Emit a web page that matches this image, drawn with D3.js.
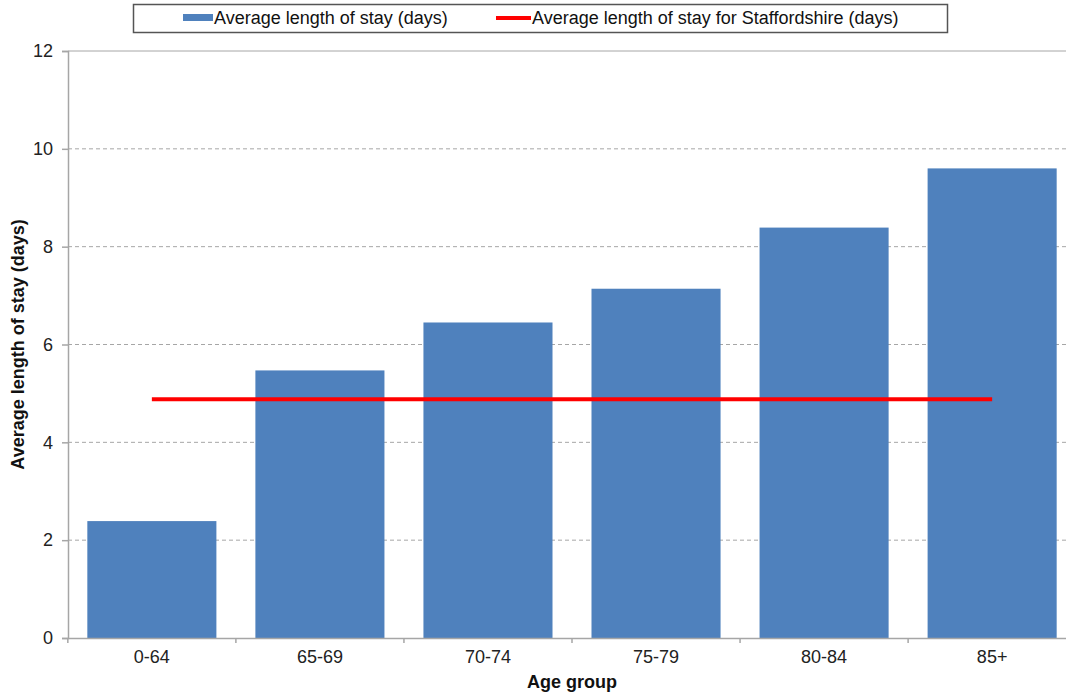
<!DOCTYPE html>
<html>
<head>
<meta charset="utf-8">
<script src="https://cdn.jsdelivr.net/npm/d3@7"></script>
<style>
  body { margin: 0; background: #fff; }
  svg { font-family: "Liberation Sans", Arial, sans-serif; }
</style>
</head>
<body>
<svg id="chart"></svg>
<script>
// 数据
var ageGroups = ["0-64", "65-69", "70-74", "75-79", "80-84", "85+"];
var avgStay = [2.39, 5.47, 6.45, 7.14, 8.39, 9.6];
var staffsAvg = [4.88, 4.88, 4.88, 4.88, 4.88, 4.88];
var yTicks = [0, 2, 4, 6, 8, 10, 12];
var legendLabels = ["Average length of stay (days)", "Average length of stay for Staffordshire (days)"];

var width = 1066;
var height = 698;
var margin = {top: 51, right: -10, bottom: 60, left: 68};

var svg = d3.select("#chart")
    .attr("width", width)
    .attr("height", height);

// 比例尺
var x = d3.scaleBand()
    .domain(ageGroups)
    .range([margin.left, width - margin.right])
    .paddingInner(0.232)
    .paddingOuter(0.115);

var y = d3.scaleLinear()
    .domain([0, 12])
    .range([height - margin.bottom, margin.top]);

// 网格线
svg.append("g")
    .selectAll("line")
    .data(yTicks.filter(d => d > 0))
    .join("line")
    .attr("x1", margin.left)
    .attr("x2", width)
    .attr("y1", d => y(d))
    .attr("y2", d => y(d))
    .attr("stroke", "#a6a6a6")
    .attr("stroke-width", 1)
    .attr("stroke-dasharray", d => d === 12 ? null : "4,3");

// 柱子
svg.append("g")
    .selectAll("rect")
    .data(ageGroups)
    .join("rect")
    .attr("x", d => x(d))
    .attr("y", (d, i) => y(avgStay[i]))
    .attr("width", x.bandwidth())
    .attr("height", (d, i) => y(0) - y(avgStay[i]))
    .attr("fill", "#4f81bd");

// 斯塔福德郡平均线
var line = d3.line()
    .x((d, i) => x(ageGroups[i]) + x.bandwidth() / 2)
    .y(d => y(d));

svg.append("path")
    .datum(staffsAvg)
    .attr("fill", "none")
    .attr("stroke", "#ff0000")
    .attr("stroke-width", 4)
    .attr("d", line);

// 坐标轴
var xAxis = svg.append("g")
    .attr("transform", `translate(0,${y(0)})`)
    .call(d3.axisBottom(x).tickSize(0).tickPadding(12));
xAxis.select(".domain").attr("stroke", "#a6a6a6").attr("stroke-width", 1.5);
xAxis.selectAll("text").attr("font-size", 18).attr("fill", "#222").attr("font-family", "Liberation Sans, Arial, sans-serif");

// 分类之间的刻度
svg.append("g")
    .selectAll("line")
    .data(ageGroups)
    .join("line")
    .attr("x1", d => x(d) - x.step() * x.paddingInner() / 2)
    .attr("x2", d => x(d) - x.step() * x.paddingInner() / 2)
    .attr("y1", y(0))
    .attr("y2", y(0) + 5)
    .attr("stroke", "#a6a6a6")
    .attr("stroke-width", 1.5);

var yAxis = svg.append("g")
    .attr("transform", `translate(${margin.left},0)`)
    .call(d3.axisLeft(y).tickValues(yTicks).tickSize(6).tickPadding(9));
yAxis.select(".domain").attr("stroke", "#a6a6a6").attr("stroke-width", 1.5);
yAxis.selectAll(".tick line").attr("stroke", "#a6a6a6").attr("stroke-width", 1.5);
yAxis.selectAll("text").attr("font-size", 18).attr("fill", "#222").attr("font-family", "Liberation Sans, Arial, sans-serif");

// 轴标题
svg.append("text")
    .attr("x", (margin.left + width - margin.right) / 2)
    .attr("y", 688)
    .attr("text-anchor", "middle")
    .attr("font-size", 18)
    .attr("font-weight", "bold")
    .attr("fill", "#111")
    .text("Age group");

svg.append("text")
    .attr("transform", `translate(24,${y(6)}) rotate(-90)`)
    .attr("text-anchor", "middle")
    .attr("font-size", 18)
    .attr("font-weight", "bold")
    .attr("fill", "#111")
    .text("Average length of stay (days)");

// 图例
var legend = svg.append("g");
legend.append("rect")
    .attr("x", 133.5)
    .attr("y", 4.5)
    .attr("width", 814)
    .attr("height", 28)
    .attr("fill", "#fff")
    .attr("stroke", "#555")
    .attr("stroke-width", 1.5);

legend.append("rect")
    .attr("x", 183)
    .attr("y", 14)
    .attr("width", 30)
    .attr("height", 7)
    .attr("fill", "#4f81bd");

legend.append("text")
    .attr("x", 214)
    .attr("y", 24)
    .attr("font-size", 18)
    .attr("fill", "#111")
    .text(legendLabels[0]);

legend.append("line")
    .attr("x1", 496)
    .attr("x2", 531)
    .attr("y1", 18)
    .attr("y2", 18)
    .attr("stroke", "#ff0000")
    .attr("stroke-width", 4);

legend.append("text")
    .attr("x", 532)
    .attr("y", 24)
    .attr("font-size", 18)
    .attr("fill", "#111")
    .text(legendLabels[1]);
</script>
</body>
</html>
